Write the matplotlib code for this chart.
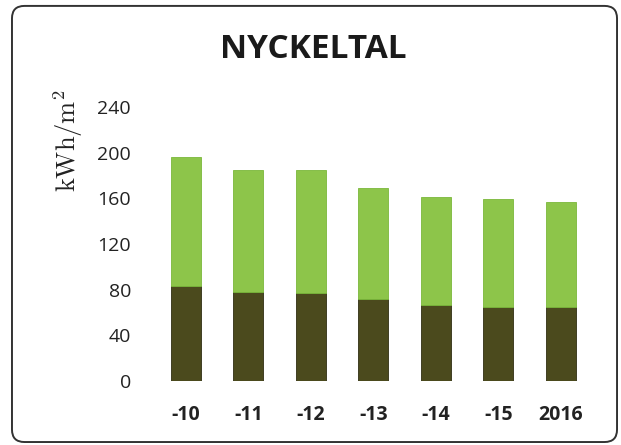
import matplotlib
matplotlib.use("Agg")
import matplotlib.pyplot as plt
from matplotlib.patches import FancyBboxPatch

# -------------------------------
# Data
# -------------------------------
years = ["-10", "-11", "-12", "-13", "-14", "-15", "2016"]
bottom_part = [83, 78, 77, 72, 67, 65, 65]
total = [196, 185, 185, 169, 161, 159, 157]
top_part = [t - b for t, b in zip(total, bottom_part)]

y_ticks = [0, 40, 80, 120, 160, 200, 240]

light_green = "#8dc54a"
dark_olive = "#4b4a1d"

plt.rcParams["font.family"] = ["Open Sans", "DejaVu Sans"]
plt.rcParams["mathtext.fontset"] = "cm"

# -------------------------------
# Figure
# -------------------------------
fig = plt.figure(figsize=(6.21, 4.45), dpi=100)
ax = fig.add_axes([0.2488, 0.1438, 0.7045, 0.6157])

x = range(len(years))
ax.bar(x, bottom_part, width=0.48, color=dark_olive, edgecolor="#2f2e12", linewidth=0.6)
ax.bar(x, top_part, width=0.48, bottom=bottom_part, color=light_green,
       edgecolor="#7ab83a", linewidth=0.6)

ax.set_xlim(-0.5, len(years) - 0.5)
ax.set_ylim(0, 240)
ax.set_yticks(y_ticks)
ax.set_yticklabels([str(v) for v in y_ticks], fontsize=14, color="#222222")
ax.set_xticks(list(x))
ax.set_xticklabels(years, fontsize=14, fontweight="bold", color="#222222")
ax.tick_params(axis="y", length=0, pad=17)
ax.tick_params(axis="x", length=0, pad=17)
for s in ax.spines.values():
    s.set_visible(False)

fig.text(0.505, 0.888, "NYCKELTAL", ha="center", va="center",
         fontsize=24, fontweight="bold", color="#1a1a1a")
fig.text(0.11, 0.683, r"$\mathrm{kWh/m^2}$", rotation=90, ha="center", va="center",
         fontsize=19, color="#222222")

# rounded border
border = FancyBboxPatch((0.0193, 0.0067), 0.9743, 0.98,
                        boxstyle="round,pad=0,rounding_size=0.02",
                        mutation_aspect=621 / 445,
                        transform=fig.transFigure, fill=False,
                        edgecolor="#333333", linewidth=1.4)
fig.patches.append(border)

fig.savefig("out.png", dpi=100)
